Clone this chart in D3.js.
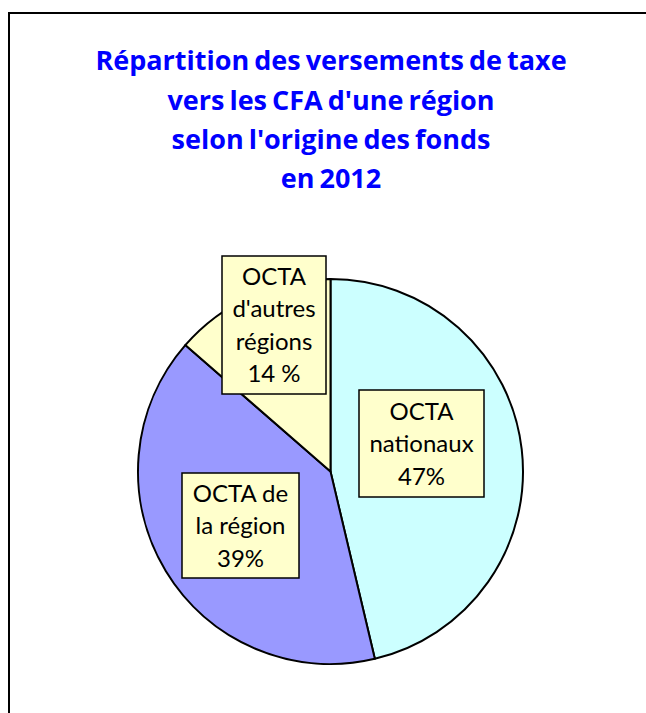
<!DOCTYPE html>
<html>
<head>
<meta charset="utf-8">
<script src="https://cdn.jsdelivr.net/npm/d3@7"></script>
<style>
	body { margin: 0; background: #fff; }
	svg text { font-family: Lato, "Liberation Sans", sans-serif; }
</style>
</head>
<body>
<svg id="chart"></svg>
<script>
// data
const titleLines = ["Répartition des versements de taxe", "vers les CFA d'une région", "selon l'origine des fonds", "en 2012"];
const categories = ["OCTA nationaux", "OCTA de la région", "OCTA d'autres régions"];
const values = [46.3, 40.1, 13.6];
const labelLines = [
	["OCTA", "nationaux", "47%"],
	["OCTA de", "la région", "39%"],
	["OCTA", "d'autres", "régions", "14 %"]
];
const colors = ["#CCFFFF", "#9999FF", "#FFFFCC"];

// layout (label box centre offsets from pie centre, box sizes)
const labelBox = [
	{dx: 91, dy: -28, w: 125, h: 107},
	{dx: -90, dy: 54, w: 117, h: 105},
	{dx: -56.5, dy: -146.5, w: 104, h: 138}
];

const width = 646, height = 713;
const cx = 330.5, cy = 471.5, radius = 192.5;

const svg = d3.select("#chart")
	.attr("width", width)
	.attr("height", height);

// chart frame (runs off the right and bottom edges)
svg.append("rect")
	.attr("x", 9)
	.attr("y", 13)
	.attr("width", 700)
	.attr("height", 800)
	.style("fill", "none")
	.style("stroke", "black")
	.style("stroke-width", "2px");

// title
svg.append("g")
	.selectAll("text")
	.data(titleLines)
	.join("text")
	.attr("x", 331)
	.attr("y", (d, i) => [70, 110, 149, 188][i])
	.attr("text-anchor", "middle")
	.style("font-family", "'Open Sans', sans-serif")
	.style("font-size", "27px")
	.style("font-weight", "bold")
	.style("word-spacing", "-2px")
	.style("fill", "#0000FF")
	.text(d => d);

const pie = d3.pie().sort(null).value(d => d);
const arc = d3.arc().innerRadius(0).outerRadius(radius);

const g = svg.append("g")
	.attr("transform", "translate(" + cx + "," + cy + ")");

g.selectAll("path")
	.data(pie(values))
	.join("path")
	.attr("d", arc)
	.style("fill", (d, i) => colors[i])
	.style("stroke", "black")
	.style("stroke-width", "2px")
	.style("stroke-linejoin", "round");

// labels
const labels = g.selectAll("g.label")
	.data(categories)
	.join("g")
	.attr("class", "label")
	.attr("transform", (d, i) => "translate(" + labelBox[i].dx + "," + labelBox[i].dy + ")");

labels.append("rect")
	.attr("x", (d, i) => -labelBox[i].w / 2)
	.attr("y", (d, i) => -labelBox[i].h / 2)
	.attr("width", (d, i) => labelBox[i].w)
	.attr("height", (d, i) => labelBox[i].h)
	.style("fill", "#FFFFCC")
	.style("stroke", "black")
	.style("stroke-width", "1.5px");

const lineH = 32.5;
labels.each(function(d, i) {
	const lines = labelLines[i];
	d3.select(this).selectAll("text")
		.data(lines)
		.join("text")
		.attr("x", 0)
		.attr("y", (t, j) => (j - (lines.length - 1) / 2) * lineH)
		.attr("dy", "0.36em")
		.attr("text-anchor", "middle")
		.style("font-size", "24px")
		.style("fill", "black")
		.text(t => t);
});
</script>
</body>
</html>
